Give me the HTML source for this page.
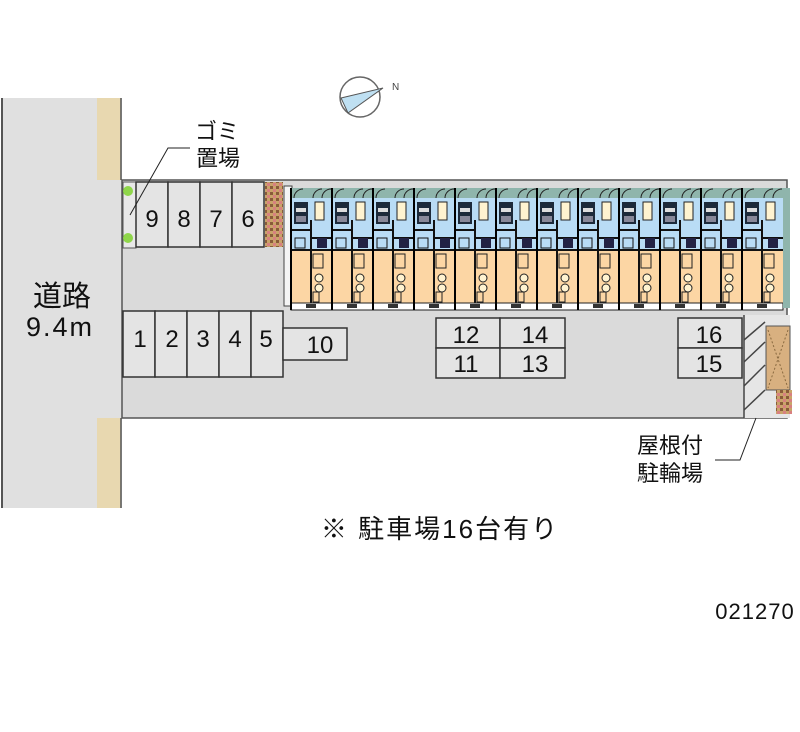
<!DOCTYPE html>
<html><head><meta charset="utf-8"><style>
html,body{margin:0;padding:0;background:#fff;}
body{width:800px;height:727px;overflow:hidden;}
svg text{font-family:"Liberation Sans","Noto Sans CJK JP",sans-serif;}
</style></head><body>
<svg width="800" height="727" viewBox="0 0 800 727" xmlns="http://www.w3.org/2000/svg">
<defs>
<pattern id="brick" width="6" height="6" patternUnits="userSpaceOnUse">
<rect width="6" height="6" fill="#c9a46a"/><rect x="0" y="0" width="3" height="3" fill="#8a5a3a"/><rect x="3" y="3" width="3" height="3" fill="#d88080"/>
</pattern>
<g id="unit">
<rect x="0" y="8" width="41" height="10" fill="#8fb5ac"/>
<path d="M3 18 a9 9 0 0 1 9 -9 M22 18 a9 9 0 0 1 9 -9 M31 18 a9 9 0 0 1 9 -9" stroke="#222" fill="none" stroke-width="1"/>
<rect x="0" y="18" width="41" height="52" fill="#b9dcf5"/>
<rect x="0" y="70" width="41" height="53" fill="#fcd6a4"/>
<rect x="3" y="22" width="14" height="22" fill="#1d2a3a"/>
<rect x="5" y="28" width="10" height="4" fill="#ddd"/>
<rect x="5" y="36" width="10" height="6" fill="#889"/>
<rect x="24" y="22" width="9" height="18" fill="#fff3d0" stroke="#222"/>
<path d="M20 40 V70 M0 50 H20 M20 58 H41" stroke="#111" stroke-width="2"/>
<rect x="4" y="58" width="10" height="10" fill="none" stroke="#111"/>
<rect x="26" y="58" width="10" height="10" fill="#224"/>
<path d="M0 70 H41 M20 70 V123" stroke="#111" stroke-width="2"/>
<rect x="22" y="74" width="10" height="14" fill="none" stroke="#222"/>
<circle cx="28" cy="98" r="4" fill="#fff3d0" stroke="#222"/>
<circle cx="28" cy="108" r="4" fill="#fff3d0" stroke="#222"/>
<rect x="22" y="112" width="6" height="10" fill="none" stroke="#222"/>
<rect x="0" y="123" width="41" height="7" fill="#fff" stroke="#222"/>
<rect x="15" y="124" width="10" height="4" fill="#333"/>
<path d="M0 8 V130" stroke="#000" stroke-width="2"/>
</g>
</defs>
<!-- road -->
<rect x="2" y="98" width="120" height="410" fill="#e0e0e0"/>
<rect x="97" y="98" width="24" height="82" fill="#e8d8b0"/>
<rect x="97" y="418" width="24" height="90" fill="#e8d8b0"/>
<line x1="2" y1="98" x2="2" y2="508" stroke="#555" stroke-width="2"/>
<line x1="121" y1="98" x2="121" y2="180" stroke="#555" stroke-width="1.5"/>
<line x1="121" y1="418" x2="121" y2="508" stroke="#555" stroke-width="1.5"/>
<text x="62" y="306" font-size="29" text-anchor="middle" fill="#111">道路</text>
<text x="60" y="336" font-size="27" text-anchor="middle" fill="#111" letter-spacing="2">9.4m</text>
<!-- lot -->
<rect x="122" y="180" width="665" height="238" fill="#dadada" stroke="#555" stroke-width="1.5"/>
<rect x="744" y="315" width="46" height="103" fill="#e6e6e6"/>
<g stroke="#444" stroke-width="1.5">
<line x1="744" y1="340" x2="765" y2="322"/><line x1="744" y1="362" x2="765" y2="342"/><line x1="744" y1="386" x2="765" y2="365"/><line x1="744" y1="410" x2="765" y2="390"/>
<line x1="744" y1="315" x2="744" y2="418"/>
</g>
<!-- garbage -->
<rect x="123" y="182" width="13" height="66" fill="#e8e8e8" stroke="#555"/>
<circle cx="128" cy="191" r="5" fill="#8fd64a"/><circle cx="128" cy="238" r="5" fill="#8fd64a"/>
<!-- top spaces 9-6 -->
<g fill="#e4e4e4" stroke="#333" stroke-width="1.5">
<rect x="136" y="182" width="32" height="65"/><rect x="168" y="182" width="32" height="65"/><rect x="200" y="182" width="32" height="65"/><rect x="232" y="182" width="32" height="65"/>
</g>
<rect x="265" y="182" width="18" height="65" fill="url(#brick)"/>
<g font-size="24" text-anchor="middle" fill="#111">
<text x="152" y="227">9</text><text x="184" y="227">8</text><text x="216" y="227">7</text><text x="248" y="227">6</text>
</g>
<path d="M130 215 L168 148 H190" stroke="#222" fill="none"/>
<text x="217" y="139" font-size="22" text-anchor="middle" fill="#111">ゴミ</text>
<text x="218" y="166" font-size="22" text-anchor="middle" fill="#111">置場</text>
<!-- building -->
<rect x="284" y="186" width="8" height="120" fill="#f4f4f4" stroke="#444"/>
<g>
<use href="#unit" x="291" y="180"/><use href="#unit" x="332" y="180"/><use href="#unit" x="373" y="180"/><use href="#unit" x="414" y="180"/>
<use href="#unit" x="455" y="180"/><use href="#unit" x="496" y="180"/><use href="#unit" x="537" y="180"/><use href="#unit" x="578" y="180"/>
<use href="#unit" x="619" y="180"/><use href="#unit" x="660" y="180"/><use href="#unit" x="701" y="180"/><use href="#unit" x="742" y="180"/>
</g>
<rect x="783" y="188" width="7" height="120" fill="#8fb5ac"/>
<!-- spaces 1-5, 10 -->
<g fill="#e4e4e4" stroke="#333" stroke-width="1.5">
<rect x="123" y="311" width="32" height="66"/><rect x="155" y="311" width="32" height="66"/><rect x="187" y="311" width="32" height="66"/><rect x="219" y="311" width="32" height="66"/><rect x="251" y="311" width="32" height="66"/>
<rect x="283" y="328" width="64" height="32"/>
<rect x="436" y="318" width="64" height="30"/><rect x="500" y="318" width="65" height="30"/>
<rect x="436" y="348" width="64" height="30"/><rect x="500" y="348" width="65" height="30"/>
<rect x="678" y="318" width="64" height="30"/><rect x="678" y="348" width="64" height="30"/>
</g>
<g font-size="24" text-anchor="middle" fill="#111">
<text x="140" y="347">1</text><text x="172" y="347">2</text><text x="203" y="347">3</text><text x="235" y="347">4</text><text x="266" y="347">5</text>
<text x="320" y="353">10</text>
<text x="466" y="343">12</text><text x="535" y="343">14</text>
<text x="466" y="372">11</text><text x="535" y="372">13</text>
<text x="709" y="343">16</text><text x="709" y="372">15</text>
</g>
<!-- bike shed -->
<rect x="766" y="326" width="24" height="64" fill="#d8b080" stroke="#555"/>
<path d="M768 330 L788 388 M788 330 L768 388" stroke="#8a6a40" stroke-dasharray="2 2"/>
<rect x="776" y="390" width="16" height="24" fill="url(#brick)"/>
<path d="M756 418 L740 460 H715" stroke="#222" fill="none"/>
<text x="670" y="453" font-size="22" text-anchor="middle" fill="#111">屋根付</text>
<text x="670" y="481" font-size="22" text-anchor="middle" fill="#111">駐輪場</text>
<!-- compass -->
<circle cx="360" cy="97" r="20" fill="none" stroke="#666" stroke-width="1.5"/>
<polygon points="341,98 383,88 348,113" fill="#bfe0f2" stroke="#555"/>
<text x="392" y="90" font-size="10" fill="#444">N</text>
<text x="440" y="538" font-size="26" text-anchor="middle" fill="#111" letter-spacing="2">※ 駐車場16台有り</text>
<text x="755" y="619" font-size="22" text-anchor="middle" fill="#111" letter-spacing="1">021270</text>
</svg>
</body></html>
